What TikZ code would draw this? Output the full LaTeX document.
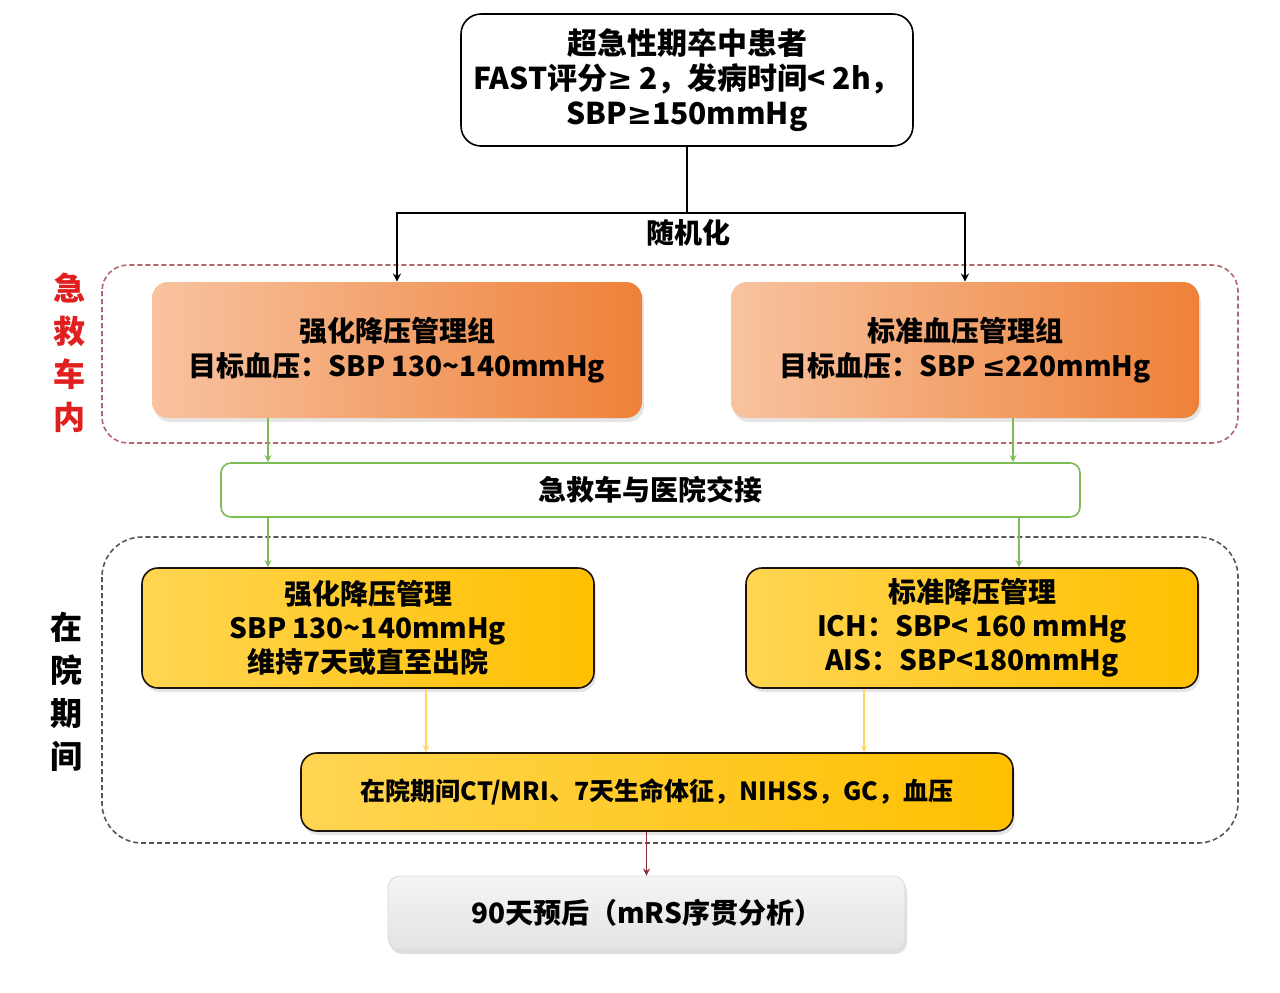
\documentclass[tikz,border=0pt]{standalone}
\usepackage{fontspec}
\setmainfont{Noto Sans CJK SC}
\newfontfamily\sym{DejaVu Sans}
\usepackage{tikz}
\usetikzlibrary{positioning,shadows}
\definecolor{OrgLight}{HTML}{F8C3A0}
\definecolor{OrgDark}{HTML}{EE8139}
\definecolor{YelLight}{HTML}{FFD552}
\definecolor{YelDark}{HTML}{FFC000}
\definecolor{HandGreen}{HTML}{7DBB55}
\definecolor{ZoneRed}{HTML}{B5646B}
\definecolor{ZoneGray}{HTML}{555555}
\definecolor{SideRed}{HTML}{E0201E}
\definecolor{ArrowYel}{HTML}{FFD966}
\definecolor{ArrowRed}{HTML}{8B2E3C}
\newcommand{\geqsym}{{\sym ≥}}
\newcommand{\leqsym}{{\sym ≤}}

\begin{document}
\begin{tikzpicture}[x=0.5pt,y=-0.5pt,>=stealth,font=\bfseries]
  \tikzstyle{topbox}=[draw=black,thick,fill=white,rounded corners=10pt,
    minimum width=226pt,minimum height=66pt,align=center,
    font=\bfseries\fontsize{15}{17.5}\selectfont]
  \tikzstyle{grp}=[left color=OrgLight,right color=OrgDark,rounded corners=8pt,
    drop shadow={opacity=0.2,shadow xshift=1pt,shadow yshift=-2pt},
    minimum height=68pt,align=center,
    font=\bfseries\fontsize{14}{17.5}\selectfont]
  \tikzstyle{handover}=[draw=HandGreen,thick,fill=white,rounded corners=5pt,
    minimum width=429.5pt,minimum height=27pt,
    font=\bfseries\fontsize{14}{17}\selectfont]
  \tikzstyle{ward}=[draw=black!85!brown,thick,left color=YelLight,right color=YelDark,
    rounded corners=8pt,drop shadow={opacity=0.2,shadow xshift=1pt,shadow yshift=-2pt},
    minimum width=226pt,align=center,font=\bfseries\fontsize{14}{17}\selectfont]
  \tikzstyle{outcome}=[draw=black!15,top color=gray!8,bottom color=gray!22,
    rounded corners=6pt,drop shadow={opacity=0.25,shadow xshift=1pt,shadow yshift=-2pt},
    minimum width=258.5pt,minimum height=37pt,font=\bfseries\fontsize{14}{17}\selectfont]
  \tikzstyle{zone}=[dash pattern=on 2.5pt off 1.5pt,thick]
  \tikzstyle{side}=[align=center,font=\bfseries\fontsize{16}{21.5}\selectfont]
  \tikzstyle{link}=[->,semithick]

  \fill[white] (0,0) rectangle (1280,992);

  % regions
  \draw[zone,ZoneRed,rounded corners=13pt] (102,265) rectangle (1238,443);
  \draw[zone,ZoneGray,rounded corners=20pt] (102,537) rectangle (1238,843);
  \node[side,SideRed] (amb) at (70,353) {急\\救\\车\\内};
  \node[side] (hosp) at (66,692) {在\\院\\期\\间};

  % boxes
  \node[topbox] (pt) at (687,80) {超急性期卒中患者\\FAST评分\geqsym{} 2，发病时间< 2h，\\SBP\geqsym150mmHg};
  \node[grp,minimum width=245pt] (oL) at (397,350) {强化降压管理组\\目标血压：SBP 130\textasciitilde140mmHg};
  \node[grp,minimum width=234pt] (oR) at (965,350) {标准血压管理组\\目标血压：SBP \leqsym220mmHg};
  \node[handover] (hand) at (650.5,490) {急救车与医院交接};
  \node[ward,minimum height=60pt] (yL) at (368,628) {强化降压管理\\SBP 130\textasciitilde140mmHg\\维持7天或直至出院};
  \node[ward,minimum height=60pt] (yR) at (972,628) {标准降压管理\\ICH：SBP< 160 mmHg\\AIS：SBP<180mmHg};
  \node[ward,minimum width=356pt,minimum height=39pt,font=\bfseries\fontsize{12.5}{15}\selectfont] (obs) at (657,792) {在院期间CT/MRI、7天生命体征，NIHSS，GC，血压};
  \node[outcome] (res) at (646.5,913) {90天预后（mRS序贯分析）};

  % randomisation
  \coordinate (split) at (687,213);
  \node[font=\bfseries\fontsize{14}{17}\selectfont] (rand) at (688,233) {随机化};
  \draw[thick] (pt.south) -- (split);
  \draw[->,thick] (split) -| (oL.north);
  \draw[->,thick] (split) -| (oR.north);

  % columns for vertical arrows
  \coordinate (cA) at (268,0);
  \coordinate (cB) at (1013,0);
  \coordinate (cC) at (1019,0);
  \coordinate (cD) at (426,0);
  \coordinate (cE) at (864,0);
  \draw[link,HandGreen] (oL.south -| cA) -- (hand.north -| cA);
  \draw[link,HandGreen] (oR.south -| cB) -- (hand.north -| cB);
  \draw[link,HandGreen] (hand.south -| cA) -- (yL.north -| cA);
  \draw[link,HandGreen] (hand.south -| cC) -- (yR.north -| cC);
  \draw[link,ArrowYel] (yL.south -| cD) -- (obs.north -| cD);
  \draw[link,ArrowYel] (yR.south -| cE) -- (obs.north -| cE);
  \draw[link,ArrowRed] (obs.south -| res.north) -- (res.north);
\end{tikzpicture}
\end{document}
